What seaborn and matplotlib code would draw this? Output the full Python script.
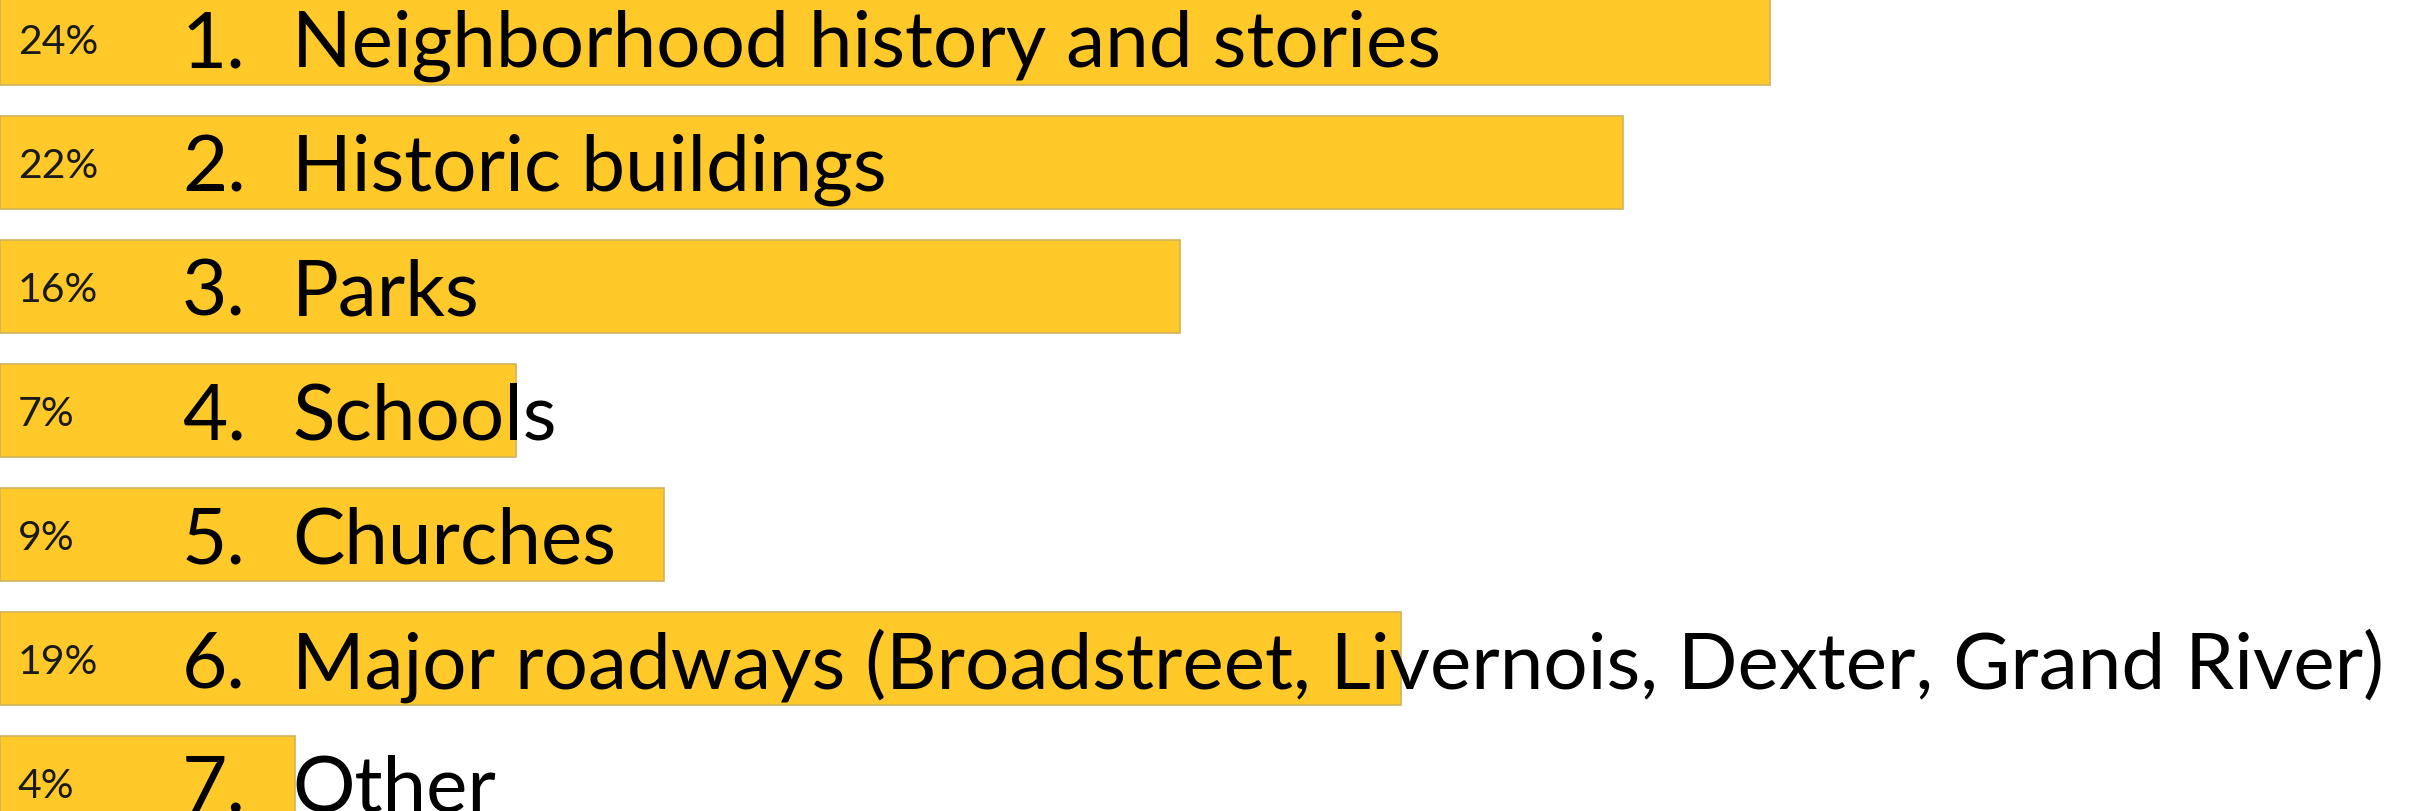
import matplotlib
matplotlib.use('Agg')
import matplotlib.pyplot as plt
import matplotlib.transforms as mtransforms
import seaborn as sns
import pandas as pd

sns.set_style("white")
plt.rcParams['font.family'] = ['Lato', 'DejaVu Sans']

# data
numbers = ['1.', '2.', '3.', '4.', '5.', '6.', '7.']
labels = ['Neighborhood history and stories', 'Historic buildings', 'Parks',
          'Schools', 'Churches',
          'Major roadways (Broadstreet, Livernois, Dexter, Grand River)',
          'Other']
percent = [24, 22, 16, 7, 9, 19, 4]

df = pd.DataFrame({'label': labels, 'percent': percent})

BAR_COLOR = '#FFC929'
EDGE_COLOR = '#D2B35A'

fig = plt.figure(figsize=(24.18, 8.11), dpi=100)
ax = fig.add_axes([0, 0, 1, 1])

sns.barplot(data=df, x='percent', y='label', orient='h', color=BAR_COLOR,
            saturation=1, width=0.75, edgecolor=EDGE_COLOR, linewidth=1.2, ax=ax)

ax.set_xlim(0, 2418 / 73.75)
ax.set_ylim(6.23, -0.31)
ax.axis('off')

trans = mtransforms.blended_transform_factory(ax.transAxes, ax.transData)

big_texts = []
for i, (num, lab, p) in enumerate(zip(numbers, labels, percent)):
    ax.text(18 / 2418, i + 0.03, f'{p}%', transform=trans, fontsize=29.5,
            va='center', ha='left', color='#1a1a1a')
    n = ax.text(182 / 2418, i + 0.06, num, transform=trans, fontsize=46,
                va='center', ha='left', color='black')
    t = ax.text(292 / 2418, i + 0.06, lab, transform=trans, fontsize=46,
                va='center', ha='left', color='black')
    big_texts += [n, t]

# squeeze the label size so the longest line ends where the original does
fig.canvas.draw()
r = fig.canvas.get_renderer()
w = big_texts[11].get_window_extent(r).width
scale = (2386 - 292) / w
for t in big_texts:
    t.set_fontsize(46 * scale)

fig.savefig('out.png', dpi=100)
